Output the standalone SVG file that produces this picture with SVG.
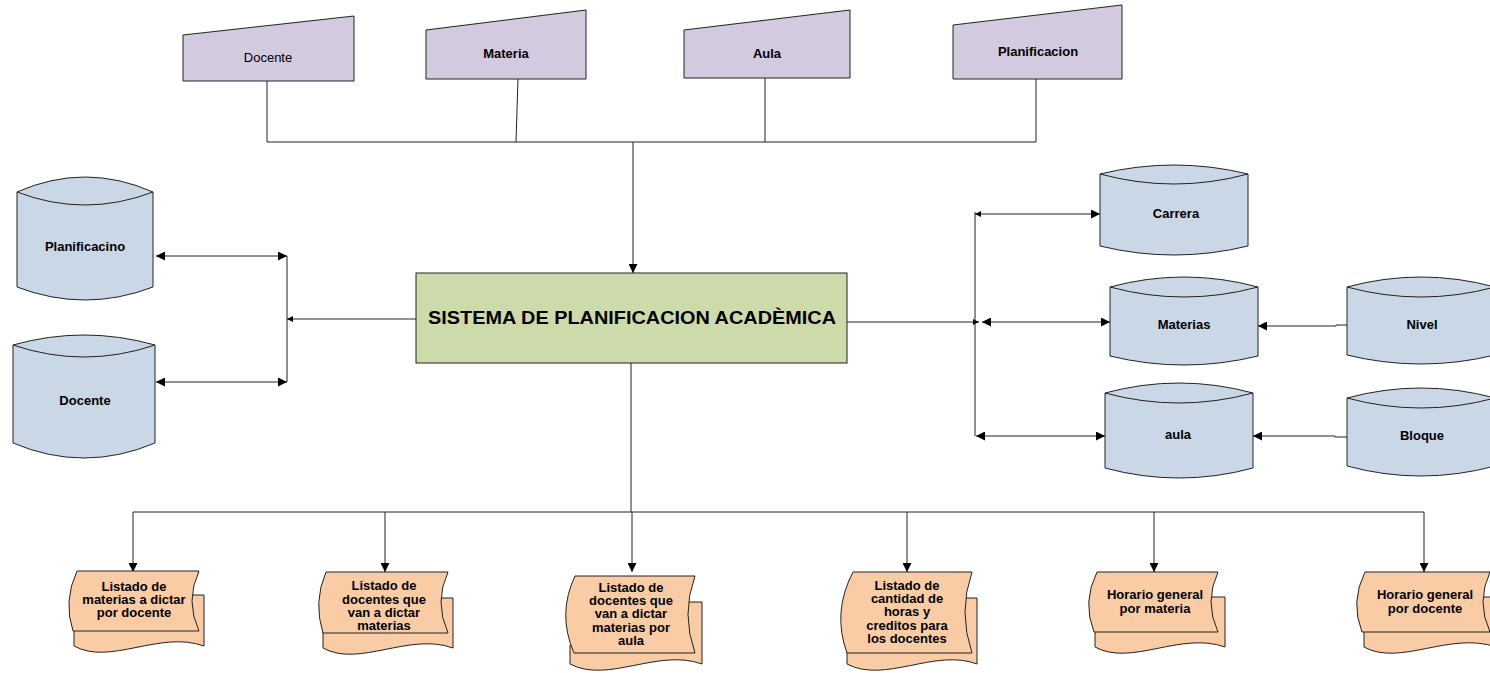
<svg xmlns="http://www.w3.org/2000/svg" width="1490" height="673" viewBox="0 0 1490 673">
<style>
.inp{fill:#d3cadf;stroke:#222;stroke-width:1}
.cyl{fill:#c9d7e6;stroke:#222;stroke-width:1}
.lid{fill:none;stroke:#222;stroke-width:1}
.doc{fill:#f9cca5;stroke:#222;stroke-width:1}
.box{fill:#cddbaa;stroke:#222;stroke-width:1}
.t{font-family:"Liberation Sans",Arial,sans-serif;font-size:13px;font-weight:bold;fill:#000;text-anchor:middle}
.tn{font-weight:normal}
.c{fill:none;stroke:#222;stroke-width:1}
</style>
<defs>
<marker id="a" viewBox="0 0 10 10" refX="10" refY="5" markerWidth="9" markerHeight="9" markerUnits="userSpaceOnUse" orient="auto-start-reverse"><path d="M0,0 L10,5 L0,10 Z" fill="#000"/></marker>
<marker id="s" viewBox="0 0 10 10" refX="10" refY="5" markerWidth="6" markerHeight="6" markerUnits="userSpaceOnUse" orient="auto-start-reverse"><path d="M0,0 L10,5 L0,10 Z" fill="#000"/></marker>
</defs>

<g id="connectors">
<path class="c" d="M267,81 V142 M518,79 L516,142 M765,78 V142 M1036,79 V142 M267,142 H1036"/>
<path class="c" d="M633,142 V273" marker-end="url(#a)"/>
<path class="c" d="M416,319 H287" marker-end="url(#s)"/>
<path class="c" d="M287,256 V382"/>
<path class="c" d="M156,256 H287" marker-start="url(#a)" marker-end="url(#a)"/>
<path class="c" d="M156,382 H287" marker-start="url(#a)" marker-end="url(#a)"/>
<path class="c" d="M847,322 H979" marker-end="url(#s)"/>
<path class="c" d="M975,212 V436"/>
<path class="c" d="M975,214 H1100" marker-start="url(#s)" marker-end="url(#a)"/>
<path class="c" d="M982,322 H1110" marker-start="url(#a)" marker-end="url(#a)"/>
<path class="c" d="M976,436 H1105" marker-start="url(#a)" marker-end="url(#a)"/>
<path class="c" d="M1347,325 H1336 V326 H1258" marker-end="url(#a)"/>
<path class="c" d="M1347,437 H1335 V436 H1253" marker-end="url(#a)"/>
<path class="c" d="M631,363 V512 M133,512 H1424"/>
<path class="c" d="M133,512 V572" marker-end="url(#a)"/>
<path class="c" d="M385,512 V572" marker-end="url(#a)"/>
<path class="c" d="M632,512 V572" marker-end="url(#a)"/>
<path class="c" d="M907,512 V572" marker-end="url(#a)"/>
<path class="c" d="M1154,512 V572" marker-end="url(#a)"/>
<path class="c" d="M1424,512 V572" marker-end="url(#a)"/>
</g>

<g id="in-docente"><path class="inp" d="M183,35 L354,16 V81 H183 Z"/><text class="t tn" x="268" y="62">Docente</text></g>
<g id="in-materia"><path class="inp" d="M426,30 L586,10 V79 H426 Z"/><text class="t" x="506" y="58">Materia</text></g>
<g id="in-aula"><path class="inp" d="M684,30 L850,10 V78 H684 Z"/><text class="t" x="767" y="58">Aula</text></g>
<g id="in-planificacion"><path class="inp" d="M953,25 L1122,5 V79 H953 Z"/><text class="t" x="1038" y="56">Planificacion</text></g>

<g id="sistema"><rect class="box" x="416" y="273" width="431" height="90"/><text class="t" x="632" y="324" style="font-size:17.5px" textLength="408" lengthAdjust="spacingAndGlyphs">SISTEMA DE PLANIFICACION ACADÈMICA</text></g>

<g id="db-planificacino"><path class="cyl" d="M17,192 Q85,162 153,192 V287 Q85,313 17,287 Z"/><path class="lid" d="M17,192 Q85,218 153,192"/><text class="t" x="85" y="251">Planificacino</text></g>
<g id="db-docente"><path class="cyl" d="M13,345 Q84,325 155,345 V443 Q84,473 13,443 Z"/><path class="lid" d="M13,345 Q84,369 155,345"/><text class="t" x="85" y="405">Docente</text></g>
<g id="db-carrera"><path class="cyl" d="M1100,174 Q1174,156 1248,174 V246 Q1174,264 1100,246 Z"/><path class="lid" d="M1100,174 Q1174,194 1248,174"/><text class="t" x="1176" y="218">Carrera</text></g>
<g id="db-materias"><path class="cyl" d="M1110,287 Q1184,267 1258,287 V356 Q1184,374 1110,356 Z"/><path class="lid" d="M1110,287 Q1184,307 1258,287"/><text class="t" x="1184" y="329">Materias</text></g>
<g id="db-aula"><path class="cyl" d="M1105,393 Q1179,373 1253,393 V468 Q1179,488 1105,468 Z"/><path class="lid" d="M1105,393 Q1179,413 1253,393"/><text class="t" x="1178" y="439">aula</text></g>
<g id="db-nivel"><path class="cyl" d="M1347,287 Q1421,267 1495,287 V355 Q1421,373 1347,355 Z"/><path class="lid" d="M1347,287 Q1421,307 1495,287"/><text class="t" x="1422" y="329">Nivel</text></g>
<g id="db-bloque"><path class="cyl" d="M1347,398 Q1421,378 1495,398 V466 Q1421,486 1347,466 Z"/><path class="lid" d="M1347,398 Q1421,418 1495,398"/><text class="t" x="1422" y="440">Bloque</text></g>

<g id="doc1">
<path class="doc" d="M74,625 V646 C110,666 160,630 204,646 V595 H190 Z"/>
<path class="doc" d="M77,571 H199 Q185,601 199,631 H73 Q63,601 77,571 Z"/>
<text class="t" x="134" y="591">Listado de</text><text class="t" x="134" y="604">materias a dictar</text><text class="t" x="134" y="617">por docente</text>
</g>
<g id="doc2">
<path class="doc" d="M323,626 V648 C359,668 409,632 453,648 V598 H440 Z"/>
<path class="doc" d="M326,572 H448 Q434,602 448,633 H323 Q313,602 326,572 Z"/>
<text class="t" x="384" y="590">Listado de</text><text class="t" x="384" y="603.5">docentes que</text><text class="t" x="384" y="617">van a dictar</text><text class="t" x="384" y="630">materias</text>
</g>
<g id="doc3">
<path class="doc" d="M570,645 V664 C608,684 658,648 702,664 V602 H688 Z"/>
<path class="doc" d="M575,576 H695 Q681,614 695,653 H574 Q557,614 575,576 Z"/>
<text class="t" x="631" y="592">Listado de</text><text class="t" x="631" y="605">docentes que</text><text class="t" x="631" y="618">van a dictar</text><text class="t" x="631" y="632">materias por</text><text class="t" x="631" y="645">aula</text>
</g>
<g id="doc4">
<path class="doc" d="M847,645 V664 C885,684 935,648 977,664 V598 H963 Z"/>
<path class="doc" d="M853,572 H972 Q958,612 972,653 H847 Q832,612 853,572 Z"/>
<text class="t" x="907" y="590">Listado de</text><text class="t" x="907" y="603">cantidad de</text><text class="t" x="907" y="616">horas y</text><text class="t" x="907" y="630">creditos para</text><text class="t" x="907" y="643">los docentes</text>
</g>
<g id="doc5">
<path class="doc" d="M1095,625 V647 C1131,667 1181,631 1225,647 V597 H1212 Z"/>
<path class="doc" d="M1097,572 H1218 Q1204,602 1218,632 H1094 Q1082,602 1097,572 Z"/>
<text class="t" x="1155" y="599">Horario general</text><text class="t" x="1155" y="613">por materia</text>
</g>
<g id="doc6">
<path class="doc" d="M1364,625 V647 C1400,667 1450,631 1496,647 V597 H1482 Z"/>
<path class="doc" d="M1365,572 H1490 Q1476,602 1490,632 H1362 Q1350,602 1365,572 Z"/>
<text class="t" x="1425" y="599">Horario general</text><text class="t" x="1425" y="613">por docente</text>
</g>
</svg>
